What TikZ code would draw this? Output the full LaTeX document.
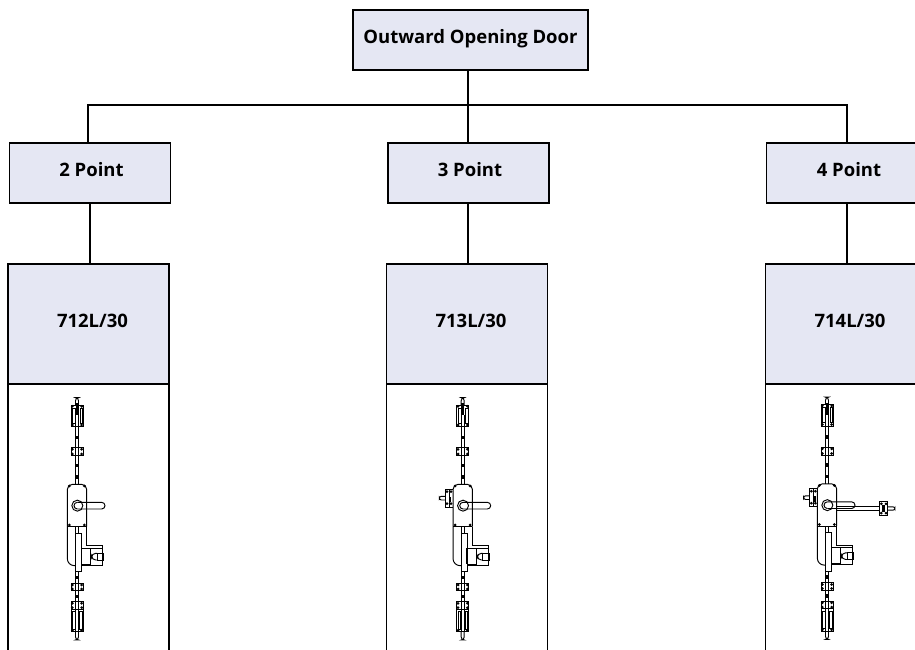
\documentclass[tikz,border=0pt]{standalone}
\usepackage{fontspec}
\setmainfont{Open Sans}
\newcommand{\lkdot}[2]{\fill (#1,#2) circle (4.5);}
\newcommand{\lkrod}[2]{\draw (-4.5,#1) -- (-4.5,#2) (4.5,#1) -- (4.5,#2);}
\newcommand{\lkgear}[1]{\fill (-4,#1-5) rectangle (4,#1+5);}
\newcommand{\lkguide}[2]{\draw (-18,#1) rectangle (18,#2);
  \draw (-5,#1) -- (-5,#2) (5,#1) -- (5,#2);
  \lkdot{-14}{#1+5}\lkdot{14}{#1+5}\lkdot{-14}{#2-5}\lkdot{14}{#2-5}}
\newcommand{\lockbody}{%
  % top rod end and keep
  \draw[rounded corners=3] (-4.5,60) -- (-4.5,38) -- (4.5,38) -- (4.5,60);
  \draw (-18,60) rectangle (18,125);
  \draw (-14,70) rectangle (-5,115) (9,70) rectangle (16,115);
  \fill (-4,55) rectangle (5,90);
  \draw (-4.5,90) -- (-4.5,125) (4.5,90) -- (4.5,125);
  \lkdot{-14}{64}\lkdot{14}{64}\lkdot{-14}{120}\lkdot{14}{120}
  % upper rod and guide
  \lkrod{125}{188}\lkgear{158}
  \lkguide{188}{212}
  \lkrod{212}{298}\lkgear{242}\lkgear{276}
  % case
  \draw[rounded corners=5] (-29,425) -- (-29,298) -- (29,298) -- (29,425);
  \draw (-29,425) -- (29,425);
  \lkdot{-23}{303}\lkdot{22}{303}\lkdot{-23}{420}\lkdot{22}{420}
  % handle
  \draw (1,362) circle (16.5);
  \draw (1,352) arc (-90:-270:10);
  \draw (1,352) -- (74,352) arc (-90:90:10) -- (1,372);
  % lower case and lock cylinder
  \draw[rounded corners=7] (-29,425) -- (-29,542) -- (14,542);
  \draw (29,425) -- (29,482) -- (77,482) -- (77,540) -- (14,540);
  \draw (14,490) rectangle (40,538);
  \draw (40,490) -- (77,490);
  \draw[rounded corners=4] (60,505) -- (44,505) -- (44,525) -- (60,525);
  \draw (60,505) rectangle (80,525);
  \filldraw[fill=white] (-5,445) rectangle (14,560);
  \fill (11,490) rectangle (14,538);
  \lkrod{425}{445}
  % lower rod, guide and keep
  \lkrod{560}{595}\lkgear{578}
  \lkguide{595}{617}
  \lkrod{617}{650}\lkgear{635}
  \draw (-18,650) rectangle (18,740);
  \draw (-18,672) -- (18,672);
  \draw (-14,680) rectangle (-6,732) (8,680) rectangle (15,732);
  \lkdot{-14}{655}\lkdot{14}{655}\lkdot{-14}{668}\lkdot{14}{668}\lkdot{-14}{736}\lkdot{14}{736}
  \draw (-4.5,650) -- (-4.5,740) (4.5,650) -- (4.5,740);
  \draw[rounded corners=3] (-4.5,740) -- (-4.5,765) -- (4.5,765) -- (4.5,740);
}
\newcommand{\lkleft}{%
  \draw (-29,312) -- (-52,312) -- (-52,366) -- (-29,366);
  \draw (-41,312) -- (-41,366);
  \lkdot{-47}{320}\lkdot{-47}{356}\lkdot{-35}{320}\lkdot{-35}{356}
  \fill (-42,335) rectangle (-34,352);
  \draw[rounded corners=2] (-52,334) -- (-70,334) -- (-70,345) -- (-52,345);
}
\tikzset{
  bluebox/.style={draw=black,line width=1.8pt,fill=boxblue,inner sep=0pt,outer sep=0pt},
  boxtext/.style={inner sep=0pt,font=\bfseries\fontsize{18.5}{20}\selectfont,text=black},
  link/.style={line width=1.8pt},
  drawing/.style={x=0.3333pt,y=-0.3333pt,line width=0.95pt}
}
\definecolor{boxblue}{HTML}{E5E7F3}
\begin{document}
\begin{tikzpicture}[x=1pt,y=-1pt]
\useasboundingbox (0,0) rectangle (915,650);
\clip (0,0) rectangle (915,650);
\fill[white] (0,0) rectangle (915,650);
% boxes
\node[bluebox,minimum width=235pt,minimum height=60pt] (top) at (470.5,40) {};
\node[boxtext] (toplabel) at (470.5,39) {Outward Opening Door};
\foreach \nm/\cx/\tx/\txt in {a/90/91.5/{2 Point},b/468.5/470/{3 Point},c/847/849/{4 Point}}{
  \node[bluebox,minimum width=161pt,minimum height=60pt] (p\nm) at (\cx,173) {};
  \node[boxtext] (pt\nm) at (\tx,170) {\txt};
}
\foreach \nm/\cx/\tx/\txt in {a/88.5/92.5/{712L/30},b/467/471/{713L/30},c/846/850/{714L/30}}{
  \node[bluebox,minimum width=161pt,minimum height=120pt] (m\nm) at (\cx,324) {};
  \node[boxtext] (mt\nm) at (\tx,320.5) {\txt};
  \draw[link] (m\nm.south west) -- ++(0,270);
  \draw[link] (m\nm.south east) -- ++(0,270);
}
% connectors
\coordinate (trunk) at (468,105);
\coordinate (busl) at (88,105);
\coordinate (busr) at (847,105);
\draw[link] (top.south -| trunk) -- (pb.north -| trunk);
\draw[link] (pa.north -| busl) -- (busl) -- (busr) -- (pc.north -| busr);
\draw[link] (pa.south -| 90,0) -- (ma.north -| 90,0);
\draw[link] (pb.south -| 468,0) -- (mb.north -| 468,0);
\draw[link] (pc.south -| 847,0) -- (mc.north -| 847,0);
% lock drawings
\begin{scope}[shift={(77,385)},drawing]
  \lockbody
\end{scope}
\begin{scope}[shift={(462.7,385)},drawing]
  \lockbody \lkleft
\end{scope}
\begin{scope}[shift={(827,384.5)},drawing]
  \lockbody \lkleft
  \draw (29,366) -- (158,366) (29,378) -- (158,378);
  \draw (158,352) rectangle (182,392);
  \lkdot{163}{358}\lkdot{177}{358}\lkdot{163}{386}\lkdot{177}{386}
  \fill (166,362) rectangle (174,382);
  \draw[rounded corners=2] (182,367) -- (204,367) -- (204,377) -- (182,377);
\end{scope}
\end{tikzpicture}
\end{document}
